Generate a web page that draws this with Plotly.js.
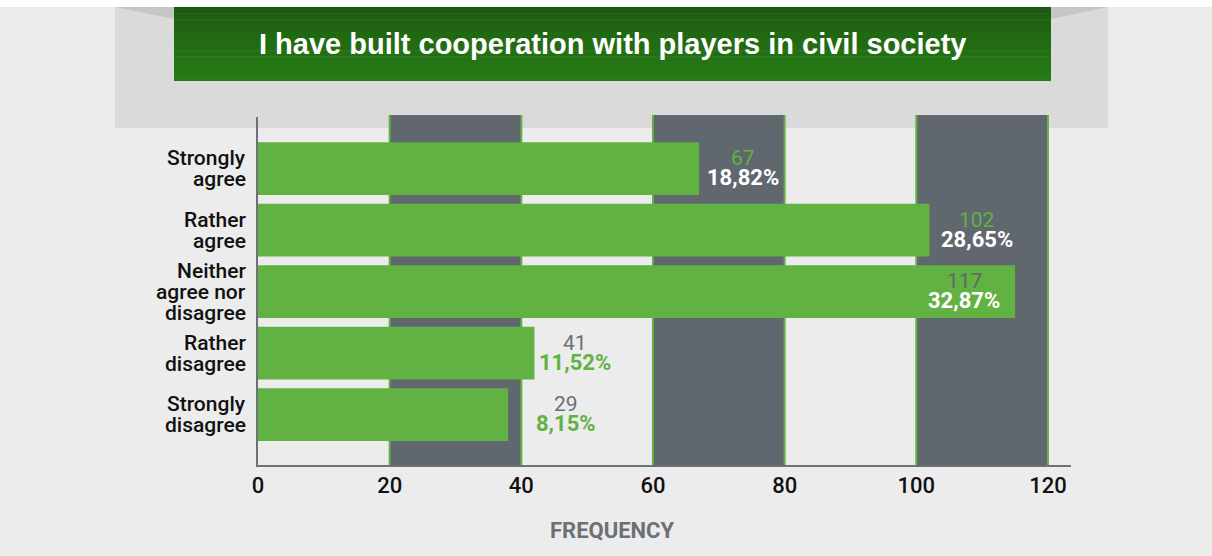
<!DOCTYPE html>
<html><head><meta charset="utf-8">
<script src="https://cdn.plot.ly/plotly-3.0.1.min.js"></script>
<style>html,body{margin:0;padding:0;background:#ececec;}#chart{width:1212px;height:556px;}</style>
</head><body><div id="chart"></div>
<script>
// ---- data ----
const categories = ['Strongly<br>agree', 'Rather<br>agree', 'Neither<br>agree nor<br>disagree', 'Rather<br>disagree', 'Strongly<br>disagree'];
const barLengths = [67, 102, 115, 42, 38];      // drawn bar lengths
const counts = [67, 102, 117, 41, 29];          // count labels
const percents = [18.82, 28.65, 32.87, 11.52, 8.15];
const xTickVals = [0, 20, 40, 60, 80, 100, 120];
const chartTitle = 'I have built cooperation with players in civil society';
const xAxisTitle = 'FREQUENCY';

// ---- style ----
const GREEN = '#62b243';
const DARK = '#60676e';
const AXIS = '#6b7177';
const FONT = 'Roboto';
const labelShift = [44, 48, -51, 41, 58];
const countColors = [GREEN, GREEN, DARK, AXIS, AXIS];
const pctColors = ['#ffffff', '#ffffff', '#ffffff', GREEN, GREEN];
const LINE_GAP = 21;

const W = 1212, H = 556;
const L = 258, R = 1071, T = 117, B = 465;
const px = x => (x - L) / (R - L);
const py = y => (B - y) / (B - T);

const shapes = [];
shapes.push({type: 'rect', xref: 'paper', yref: 'paper', x0: px(0), x1: px(W), y0: py(0), y1: py(7), fillcolor: '#ffffff', line: {width: 0}, layer: 'below'});
shapes.push({type: 'rect', xref: 'paper', yref: 'paper', x0: px(115), x1: px(1108), y0: py(7), y1: py(128), fillcolor: '#dadada', line: {width: 0}, layer: 'below'});
// soft corner shading of the header band
shapes.push({type: 'path', xref: 'paper', yref: 'paper', layer: 'below', fillcolor: 'rgba(160,160,160,0.35)', line: {width: 0},
  path: `M${px(115)},${py(7)} L${px(174)},${py(7)} L${px(174)},${py(19)} Z`});
shapes.push({type: 'path', xref: 'paper', yref: 'paper', layer: 'below', fillcolor: 'rgba(160,160,160,0.35)', line: {width: 0},
  path: `M${px(1051)},${py(7)} L${px(1108)},${py(7)} L${px(1051)},${py(19)} Z`});
// title box gradient strips
const nStrips = 12;
const c0 = [29, 92, 16], c1 = [38, 124, 21];
for (let i = 0; i < nStrips; i++) {
  const t = i / (nStrips - 1);
  const c = c0.map((v, k) => Math.round(v + (c1[k] - v) * t));
  const ya = 7 + (81 - 7) * i / nStrips, yb = 7 + (81 - 7) * (i + 1) / nStrips;
  shapes.push({type: 'rect', xref: 'paper', yref: 'paper', x0: px(174), x1: px(1051), y0: py(ya), y1: py(Math.min(81, yb + 0.5)),
    fillcolor: `rgb(${c[0]},${c[1]},${c[2]})`, line: {width: 0}, layer: 'below'});
}
// dark grid bands with green edges
for (let i = 1; i + 1 < xTickVals.length; i += 2) {
  shapes.push({type: 'rect', xref: 'x', yref: 'paper', x0: xTickVals[i], x1: xTickVals[i + 1], y0: -0.005, y1: py(115), fillcolor: DARK, line: {width: 0}, layer: 'below'});
}
xTickVals.slice(1).forEach(v => {
  shapes.push({type: 'line', xref: 'x', yref: 'paper', x0: v, x1: v, y0: -0.005, y1: py(115), line: {color: GREEN, width: 2}, layer: 'below'});
});

const annotations = [];
categories.forEach((c, i) => {
  // category label, line by line, right-aligned
  const lines = c.split('<br>');
  lines.forEach((ln, k) => {
    annotations.push({xref: 'paper', yref: 'y', x: px(248), y: c, yshift: ((lines.length - 1) / 2 - k) * LINE_GAP,
      text: ln, showarrow: false, xanchor: 'right', yanchor: 'middle',
      font: {family: FONT, size: 21, weight: 500, color: '#111111'}});
  });
  annotations.push({x: barLengths[i], y: c, xref: 'x', yref: 'y', xshift: labelShift[i], yshift: 10.5,
    text: String(counts[i]), showarrow: false, xanchor: 'center', yanchor: 'middle',
    font: {family: FONT, size: 21, color: countColors[i]}});
  annotations.push({x: barLengths[i], y: c, xref: 'x', yref: 'y', xshift: labelShift[i], yshift: -9,
    text: '<b>' + percents[i].toFixed(2).replace('.', ',') + '%</b>', showarrow: false, xanchor: 'center', yanchor: 'middle',
    font: {family: FONT, size: 22, color: pctColors[i]}});
});
annotations.push({xref: 'paper', yref: 'paper', x: px(612), y: py(44), text: '<b>' + chartTitle + '</b>', showarrow: false,
  xanchor: 'center', yanchor: 'middle', font: {family: 'Liberation Sans, Arial, sans-serif', size: 29, color: '#ffffff'}});
annotations.push({xref: 'paper', yref: 'paper', x: px(612), y: py(530), text: '<b>' + xAxisTitle + '</b>', showarrow: false,
  xanchor: 'center', yanchor: 'middle', font: {family: FONT, size: 22, color: AXIS}});

const trace = {
  type: 'bar', orientation: 'h', x: barLengths, y: categories, width: 0.86,
  marker: {color: GREEN, line: {width: 0}}, hoverinfo: 'none'
};

const layout = {
  width: W, height: H,
  margin: {l: L, r: W - R, t: T, b: H - B, pad: 0},
  paper_bgcolor: '#ececec', plot_bgcolor: 'rgba(0,0,0,0)',
  showlegend: false,
  xaxis: {
    range: [0, 123.5], tickvals: xTickVals, ticktext: xTickVals.map(String),
    showgrid: false, zeroline: false, showline: true, linecolor: AXIS, linewidth: 2,
    ticks: '', tickfont: {family: FONT, size: 22, weight: 500, color: '#111111'},
    fixedrange: true
  },
  yaxis: {
    type: 'category', categoryorder: 'array', categoryarray: categories,
    range: [4.82, -0.84], showgrid: false, zeroline: false, showline: true, linecolor: AXIS, linewidth: 2,
    showticklabels: false, ticks: '', fixedrange: true
  },
  shapes: shapes,
  annotations: annotations
};

Plotly.newPlot('chart', [trace], layout, {displayModeBar: false, staticPlot: true});
</script>
</body></html>
